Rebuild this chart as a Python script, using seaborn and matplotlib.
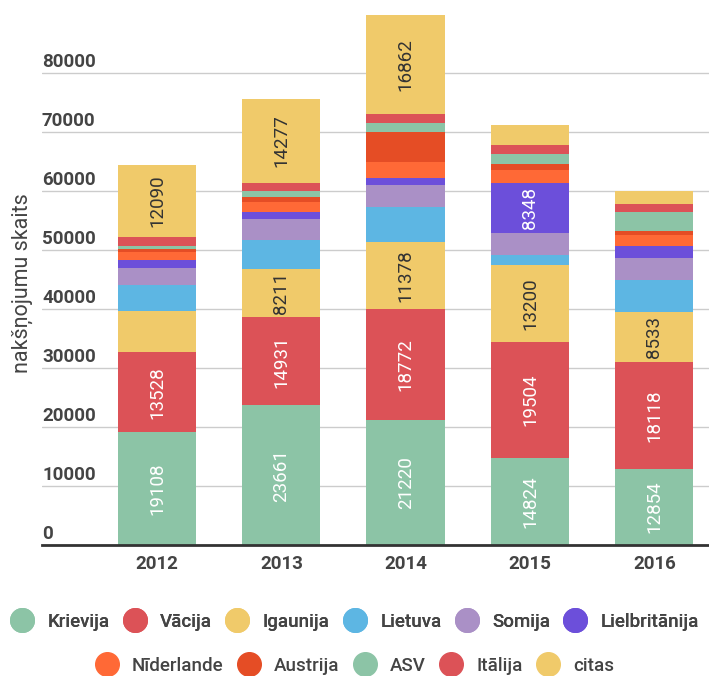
import matplotlib
matplotlib.use('Agg')
import matplotlib.pyplot as plt
import seaborn as sns
import numpy as np
import pandas as pd
from matplotlib.lines import Line2D

years = ['2012', '2013', '2014', '2015', '2016']
series = ['Krievija', 'Vācija', 'Igaunija', 'Lietuva', 'Somija', 'Lielbritānija',
          'Nīderlande', 'Austrija', 'ASV', 'Itālija', 'citas']
krievija = [19108, 23661, 21220, 14824, 12854]
vacija = [13528, 14931, 18772, 19504, 18118]
igaunija = [7030, 8211, 11378, 13200, 8533]
lietuva = [4400, 4920, 5930, 1580, 5370]
somija = [2830, 3500, 3670, 3840, 3730]
lielbritanija = [1400, 1190, 1190, 8348, 2090]
niderlande = [1400, 1640, 2825, 2260, 1860]
austrija = [450, 850, 5085, 1020, 680]
asv = [565, 1020, 1525, 1695, 3280]
italija = [1525, 1410, 1410, 1525, 1240]
citas = [12090, 14277, 16862, 3390, 2260]

values = [krievija, vacija, igaunija, lietuva, somija, lielbritanija,
          niderlande, austrija, asv, italija, citas]
colors = ['#8CC4A6', '#DC5257', '#F0CA6A', '#5DB6E3', '#AA90C6', '#6C4FDA',
          '#FF6936', '#E54D25', '#8CC4A6', '#DC5257', '#F0CA6A']
# which segments carry a visible value label
labeled = {
    'Krievija': [1, 1, 1, 1, 1],
    'Vācija': [1, 1, 1, 1, 1],
    'Igaunija': [0, 1, 1, 1, 1],
    'Lielbritānija': [0, 0, 0, 1, 0],
    'citas': [1, 1, 1, 0, 0],
}
label_color = {'Krievija': 'white', 'Vācija': 'white', 'Igaunija': '#333333',
               'Lielbritānija': 'white', 'citas': '#333333'}

sns.set_style('white')
plt.rcParams['font.family'] = ['Roboto', 'DejaVu Sans']

W, H = 709, 676
fig = plt.figure(figsize=(W / 100, H / 100), dpi=100)
base_px = 545
top_px = 0
ax = fig.add_axes([42 / W, (H - base_px) / H, 1 - 42 / W, (base_px - top_px) / H])

px_per_unit = 472 / 80000
ymax = (base_px - top_px) / px_per_unit

bottom = np.zeros(len(years))
for name, vals, col in zip(series, values, colors):
    df = pd.DataFrame({'year': years, 'v': vals})
    sns.barplot(data=df, x='year', y='v', color=col, bottom=bottom, width=0.63,
                ax=ax, saturation=1, linewidth=0, errorbar=None, order=years)
    cont = ax.containers[-1]
    if name in labeled:
        labs = [str(v) if m else '' for v, m in zip(vals, labeled[name])]
        ax.bar_label(cont, labels=labs, label_type='center', rotation=90,
                     color=label_color[name], fontsize=13.5)
    bottom = bottom + np.array(vals)

ax.set_xlim(-0.925, 4.44)
ax.set_ylim(0, ymax)
ax.set_yticks(range(0, 90000, 10000))
ax.yaxis.grid(True, color='#cccccc', linewidth=1)
ax.set_axisbelow(True)
ax.set_yticklabels([])
ax.tick_params(axis='y', length=0)
for t in range(0, 90000, 10000):
    ax.text(0.0, t + 350, str(t), transform=ax.get_yaxis_transform(),
            ha='left', va='bottom', fontsize=13.5, fontweight='bold', color='#444444')
for s in ['top', 'right', 'left']:
    ax.spines[s].set_visible(False)
ax.spines['bottom'].set_color('#333333')
ax.spines['bottom'].set_linewidth(2)
ax.set_xlabel('')
ax.set_ylabel('')
ax.tick_params(axis='x', length=0, pad=7, labelsize=13.5, labelcolor='#444444')
for lab in ax.get_xticklabels():
    lab.set_fontweight('bold')

fig.text(22 / W, 1 - 283 / H, 'nakšņojumu skaits', rotation=90, ha='center', va='center',
         fontsize=15.5, color='#444444')

handles = [Line2D([], [], marker='o', linestyle='', markersize=17,
                  markerfacecolor=c, markeredgecolor=c) for c in colors]
common = dict(loc='center', frameon=False, fontsize=13.5, handlelength=1.3,
              handletextpad=0.7, columnspacing=0.7, labelcolor='#444444',
              borderpad=0, borderaxespad=0)
leg1 = fig.legend(handles[:6], series[:6], bbox_to_anchor=(0.5, 1 - 622 / H),
                  ncol=6, **common)
fig.add_artist(leg1)
leg2 = fig.legend(handles[6:], series[6:], bbox_to_anchor=(0.5, 1 - 666 / H),
                  ncol=5, **common)
for leg in (leg1, leg2):
    for t in leg.get_texts():
        t.set_fontweight('medium')

fig.savefig('out.png', dpi=100)
